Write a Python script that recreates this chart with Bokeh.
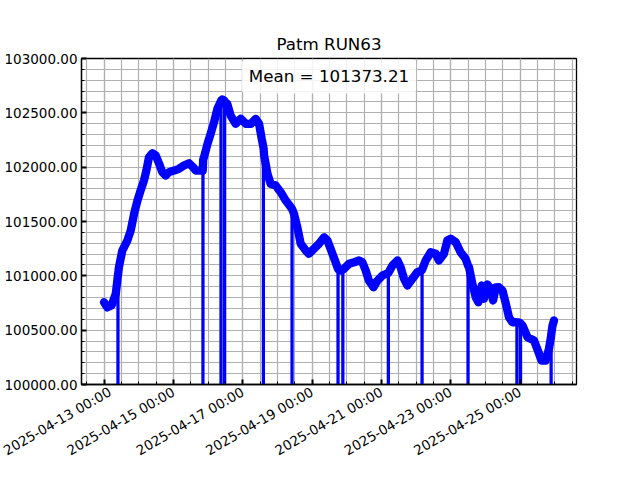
import numpy as np
import pandas as pd
from bokeh.plotting import figure
from bokeh.models import (Range1d, FixedTicker, SingleIntervalTicker, DatetimeTickFormatter,
                          PrintfTickFormatter, Label, ColumnDataSource)
from bokeh.embed import file_html
from bokeh.resources import INLINE

title_text = "Patm RUN63"
mean_text = "Mean = 101373.21"

times = [
    "2025-04-13 00:00", "2025-04-13 02:20", "2025-04-13 05:20", "2025-04-13 08:10", "2025-04-13 09:30",
    "2025-04-13 09:40", "2025-04-13 09:50", "2025-04-13 10:20", "2025-04-13 12:40", "2025-04-13 16:10",
    "2025-04-13 18:30", "2025-04-13 20:50", "2025-04-13 23:10", "2025-04-14 01:20", "2025-04-14 03:40",
    "2025-04-14 05:20", "2025-04-14 07:10", "2025-04-14 09:30", "2025-04-14 11:50", "2025-04-14 14:10",
    "2025-04-14 16:20", "2025-04-14 18:40", "2025-04-14 21:00", "2025-04-15 00:30", "2025-04-15 03:50",
    "2025-04-15 07:20", "2025-04-15 10:50", "2025-04-15 13:40", "2025-04-15 15:30", "2025-04-15 20:20",
    "2025-04-15 20:30", "2025-04-15 20:40", "2025-04-15 21:10", "2025-04-15 23:40", "2025-04-16 01:50",
    "2025-04-16 04:10", "2025-04-16 06:30", "2025-04-16 08:50", "2025-04-16 09:00", "2025-04-16 09:10",
    "2025-04-16 09:50", "2025-04-16 11:20", "2025-04-16 11:30", "2025-04-16 11:40", "2025-04-16 13:20",
    "2025-04-16 15:40", "2025-04-16 19:10", "2025-04-16 22:40", "2025-04-17 02:10", "2025-04-17 05:40",
    "2025-04-17 09:00", "2025-04-17 11:20", "2025-04-17 13:10", "2025-04-17 14:10", "2025-04-17 14:20",
    "2025-04-17 14:30", "2025-04-17 14:50", "2025-04-17 17:10", "2025-04-17 19:20", "2025-04-17 22:50",
    "2025-04-18 02:20", "2025-04-18 05:50", "2025-04-18 10:00", "2025-04-18 10:10", "2025-04-18 10:20",
    "2025-04-18 11:30", "2025-04-18 13:50", "2025-04-18 16:10", "2025-04-18 19:40", "2025-04-18 21:50",
    "2025-04-19 01:20", "2025-04-19 04:50", "2025-04-19 08:20", "2025-04-19 10:40", "2025-04-19 12:50",
    "2025-04-19 16:20", "2025-04-19 17:50", "2025-04-19 18:00", "2025-04-19 18:10", "2025-04-19 19:50",
    "2025-04-19 21:10", "2025-04-19 21:20", "2025-04-19 21:30", "2025-04-19 22:10", "2025-04-20 01:40",
    "2025-04-20 05:10", "2025-04-20 08:30", "2025-04-20 10:50", "2025-04-20 13:10", "2025-04-20 15:20",
    "2025-04-20 18:30", "2025-04-20 21:20", "2025-04-21 00:40", "2025-04-21 04:40", "2025-04-21 04:50",
    "2025-04-21 05:00", "2025-04-21 07:40", "2025-04-21 11:10", "2025-04-21 13:20", "2025-04-21 15:40",
    "2025-04-21 18:00", "2025-04-21 21:30", "2025-04-22 00:50", "2025-04-22 04:00", "2025-04-22 04:10",
    "2025-04-22 04:20", "2025-04-22 06:40", "2025-04-22 10:10", "2025-04-22 13:40", "2025-04-22 15:50",
    "2025-04-22 19:20", "2025-04-22 21:40", "2025-04-23 00:00", "2025-04-23 03:30", "2025-04-23 06:50",
    "2025-04-23 10:20", "2025-04-23 11:50", "2025-04-23 12:00", "2025-04-23 12:10", "2025-04-23 12:40",
    "2025-04-23 15:00", "2025-04-23 17:20", "2025-04-23 19:10", "2025-04-23 21:30", "2025-04-23 23:00",
    "2025-04-24 01:20", "2025-04-24 03:40", "2025-04-24 05:20", "2025-04-24 07:10", "2025-04-24 09:20",
    "2025-04-24 11:50", "2025-04-24 14:10", "2025-04-24 16:20", "2025-04-24 18:40", "2025-04-24 21:40",
    "2025-04-24 21:50", "2025-04-24 22:00", "2025-04-24 23:00", "2025-04-25 00:10", "2025-04-25 00:20",
    "2025-04-25 00:30", "2025-04-25 01:40", "2025-04-25 05:10", "2025-04-25 09:40", "2025-04-25 12:20",
    "2025-04-25 14:50", "2025-04-25 17:50", "2025-04-25 20:00", "2025-04-25 21:20", "2025-04-25 21:30",
    "2025-04-25 21:40", "2025-04-25 22:30", "2025-04-25 23:30",
]

patm = [
    100757, 100710, 100730, 100835, 100990,
    0, 101020, 101079, 101233, 101325,
    101417, 101571, 101693, 101785, 101877,
    101969, 102092, 102128, 102107, 102031,
    101954, 101923, 101954, 101969, 101985,
    102015, 102036, 102000, 101969, 101969,
    0, 102070, 102089, 102215, 102307,
    102414, 102537, 102605, 0, 102615,
    102623, 102612, 0, 102600, 102583,
    102475, 102399, 102445, 102399, 102399,
    102445, 102399, 102261, 102195, 0,
    102170, 102107, 101939, 101847, 101831,
    101770, 101693, 101620, 0, 101610,
    101571, 101447, 101295, 101233, 101203,
    101249, 101295, 101355, 101325, 101249,
    101125, 101070, 0, 101060, 101049,
    101055, 0, 101060, 101065, 101111,
    101125, 101141, 101125, 101049, 100957,
    100895, 100957, 101003, 101025, 0,
    101030, 101095, 101141, 101079, 100973,
    100911, 100973, 101033, 101052, 0,
    101060, 101141, 101217, 101203, 101141,
    101203, 101325, 101341, 101309, 101217,
    101157, 101100, 0, 101090, 101079,
    100927, 100803, 100757, 100911, 100789,
    100920, 100883, 100773, 100893, 100895,
    100865, 100743, 100619, 100573, 100573,
    0, 100572, 100571, 100565, 0,
    100560, 100543, 100435, 100405, 100313,
    100221, 100221, 100329, 100430, 0,
    100470, 100543, 100589,
]

y_start, y_end = 100000, 103000

t = pd.to_datetime(times)
v = np.array(patm, dtype=float)
ok = v > 0

span = t.max() - t.min()
xstart = t.min() - 0.05 * span
xend = t.max() + 0.05 * span
to_ms = lambda ts: ts.value / 1e6

p = figure(frame_width=495, frame_height=326, x_axis_type="datetime",
           output_backend="svg", toolbar_location=None,
           x_range=Range1d(to_ms(xstart), to_ms(xend)),
           y_range=Range1d(y_start, y_end),
           min_border_left=81, min_border_right=40, min_border_top=58, min_border_bottom=88,
           title=title_text, background_fill_color="white", border_fill_color="white")

src_all = ColumnDataSource(dict(t=t, v=v))
src_ok = ColumnDataSource(dict(t=t[ok], v=v[ok]))

p.line("t", "v", source=src_all, line_color="#0000ff", line_width=2.8)
p.line("t", "v", source=src_ok, line_color="#0000ff", line_width=8.3,
       line_join="round", line_cap="round")

major = pd.date_range(xstart.ceil("D"), xend, freq="2D")
minor = pd.date_range(xstart.ceil("12h"), xend, freq="12h")
p.xaxis.ticker = FixedTicker(ticks=[to_ms(x) for x in major], minor_ticks=[to_ms(x) for x in minor])
fmt = "%Y-%m-%d %H:%M"
p.xaxis.formatter = DatetimeTickFormatter(microseconds=fmt, milliseconds=fmt, seconds=fmt, minsec=fmt,
                                          minutes=fmt, hourmin=fmt, hours=fmt, days=fmt,
                                          months=fmt, years=fmt)
p.yaxis.ticker = SingleIntervalTicker(interval=500, num_minor_ticks=5)
p.yaxis.formatter = PrintfTickFormatter(format="%.2f")

p.axis.major_tick_in = 5
p.axis.major_tick_out = 0
p.axis.major_tick_line_width = 2
p.axis.minor_tick_in = 3
p.axis.minor_tick_out = 0
p.axis.minor_tick_line_width = 1
p.axis.axis_line_width = 1.3
p.axis.major_label_text_font = "DejaVu Sans"
p.axis.major_label_text_font_size = "13.5px"
p.axis.major_label_text_color = "black"
p.yaxis.major_label_standoff = 4
p.xaxis.major_label_standoff = 6
p.xaxis.major_label_orientation = np.pi / 6

p.xgrid.grid_line_color = "#b0b0b0"
p.ygrid.grid_line_color = "#b0b0b0"
p.xgrid.minor_grid_line_color = "#b0b0b0"
p.ygrid.minor_grid_line_color = "#b0b0b0"
p.grid.grid_line_width = 1.2
p.grid.minor_grid_line_width = 1.2

p.outline_line_color = "black"
p.outline_line_width = 1.3
p.outline_line_alpha = 1

p.title.text_font = "DejaVu Sans"
p.title.text_font_size = "16.7px"
p.title.text_font_style = "normal"
p.title.text_color = "black"
p.title.align = "center"

mean_label = Label(x=(to_ms(xstart) + to_ms(xend)) / 2, y=y_end - 0.055 * (y_end - y_start),
                   text=mean_text, text_align="center", text_baseline="middle",
                   text_font="DejaVu Sans", text_font_size="16.7px", text_color="black",
                   background_fill_color="white", background_fill_alpha=0.85,
                   border_line_color=None, padding=7, border_radius=4)
p.add_layout(mean_label)

open("out.html", "w").write(file_html(p, INLINE))
